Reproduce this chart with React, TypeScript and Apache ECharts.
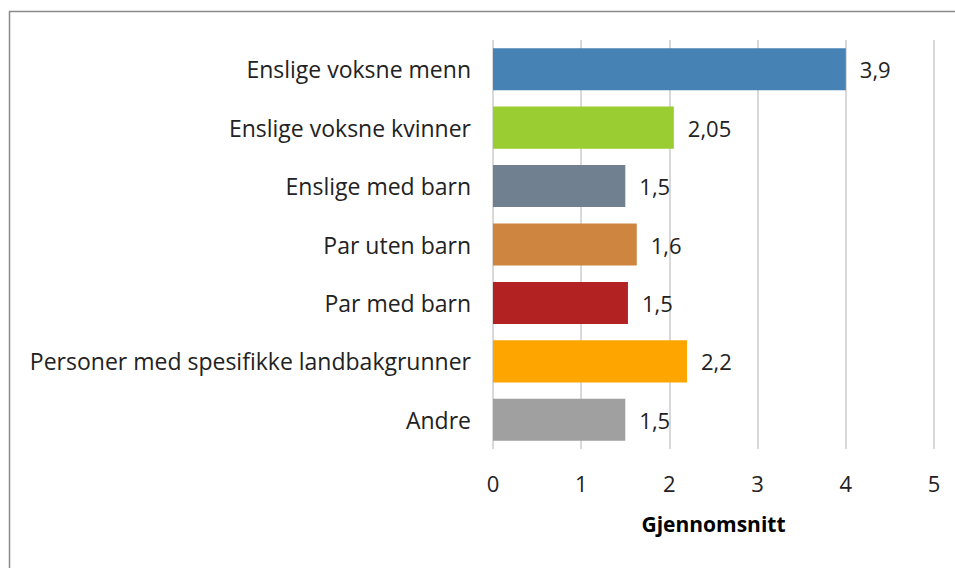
import React, { useEffect, useRef } from "react";
import * as echarts from "echarts";

const categories = [
  "Enslige voksne menn",
  "Enslige voksne kvinner",
  "Enslige med barn",
  "Par uten barn",
  "Par med barn",
  "Personer med spesifikke landbakgrunner",
  "Andre",
];
const values = [4.0, 2.05, 1.5, 1.63, 1.53, 2.2, 1.5];
const valueLabels = ["3,9", "2,05", "1,5", "1,6", "1,5", "2,2", "1,5"];
const colors = ["#4682B4", "#9ACD32", "#708090", "#CD853F", "#B22222", "#FFA500", "#A0A0A0"];
const xTicks = [0, 1, 2, 3, 4, 5];
const axisTitle = "Gjennomsnitt";

export default function App() {
  const ref = useRef<HTMLDivElement>(null);
  useEffect(() => {
    if (!ref.current) return;
    const chart = echarts.init(ref.current, null, { renderer: "svg" });
    const font = "'Open Sans', 'Noto Sans', sans-serif";
    chart.setOption({
      animation: false,
      backgroundColor: "#ffffff",
      textStyle: { fontFamily: font },
      grid: { left: 493, right: 21, top: 40, bottom: 119, containLabel: false },
      xAxis: {
        type: "value",
        min: xTicks[0],
        max: xTicks[xTicks.length - 1],
        interval: 1,
        name: axisTitle,
        nameLocation: "middle",
        nameGap: 64,
        nameTextStyle: { fontSize: 21, fontWeight: "bold", color: "#000", fontFamily: font },
        axisLine: { show: false },
        axisTick: { show: false },
        axisLabel: { fontSize: 22, color: "#222", margin: 23, fontFamily: font },
        splitLine: { show: true, lineStyle: { color: "#d9d9d9", width: 2 } },
      },
      yAxis: {
        type: "category",
        data: categories,
        inverse: true,
        axisLine: { show: false },
        axisTick: { show: false },
        axisLabel: { fontSize: 23, color: "#222", margin: 22, fontFamily: font },
        splitLine: { show: false },
      },
      series: [
        {
          type: "bar",
          barWidth: "72%",
          data: values.map((v, i) => ({ value: v, itemStyle: { color: colors[i] } })),
          label: {
            show: true,
            position: "right",
            distance: 14,
            fontSize: 22,
            color: "#222",
            fontFamily: font,
            formatter: (p: any) => valueLabels[p.dataIndex],
          },
        },
      ],
      graphic: [
        {
          type: "rect",
          shape: { x: 9.5, y: 11.5, width: 1000, height: 600 },
          style: { fill: "none", stroke: "#8a8a8a", lineWidth: 1.5 },
          silent: true,
        },
      ],
    });
    return () => chart.dispose();
  }, []);
  return (
    <div
      ref={ref}
      style={{ position: "fixed", left: 0, top: 0, width: 955, height: 568 }}
    />
  );
}
